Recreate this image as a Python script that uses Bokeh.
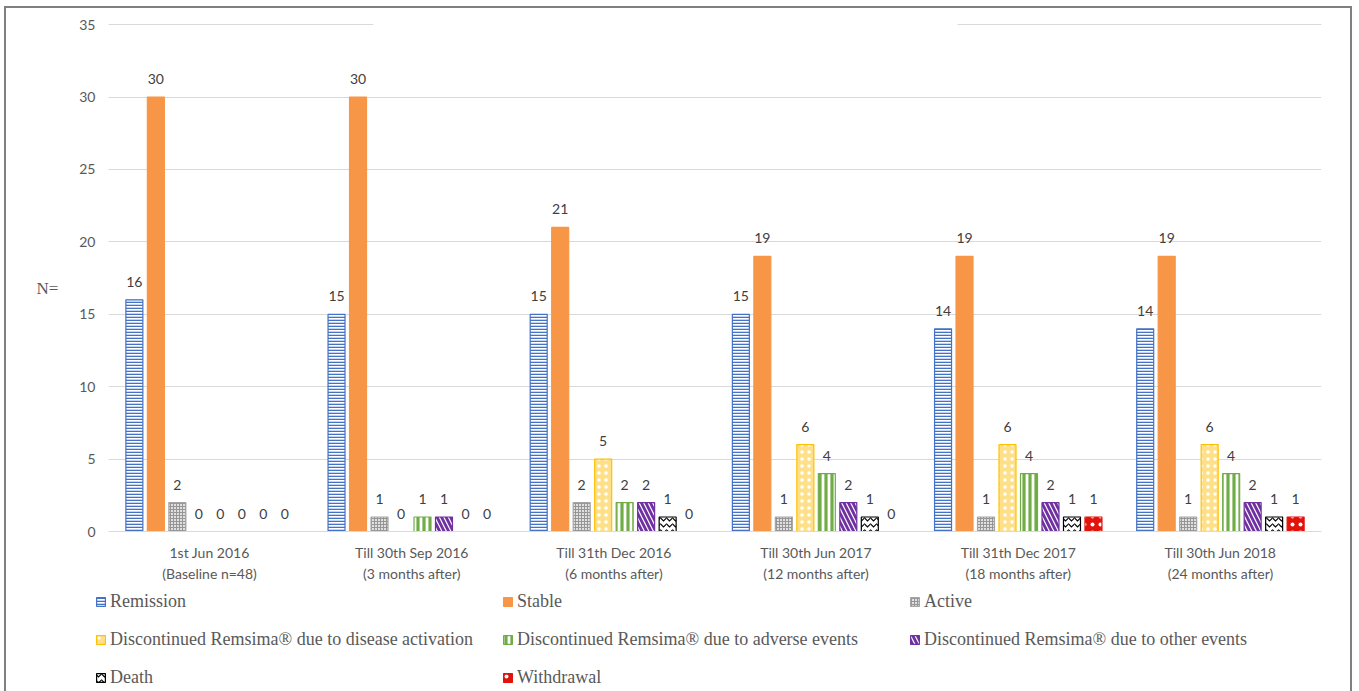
from bokeh.plotting import figure
from bokeh.models import (ColumnDataSource, FactorRange, Range1d, Legend, LegendItem,
                          FixedTicker, BoxAnnotation)
from bokeh.layouts import column
from bokeh.transform import dodge
from bokeh.core.properties import value
from bokeh.embed import file_html
from bokeh.resources import INLINE

categories = ["1st Jun 2016\n(Baseline n=48)", "Till 30th Sep 2016\n(3 months after)",
              "Till 31th Dec 2016\n(6 months after)", "Till 30th Jun 2017\n(12 months after)",
              "Till 31th Dec 2017\n(18 months after)", "Till 30th Jun 2018\n(24 months after)"]
remission = [16, 15, 15, 15, 14, 14]
stable = [30, 30, 21, 19, 19, 19]
active = [2, 1, 2, 1, 1, 1]
disease_activation = [0, 0, 5, 6, 6, 6]
adverse_events = [0, 1, 2, 4, 4, 4]
other_events = [0, 1, 2, 2, 2, 2]
death = [0, 0, 1, 1, 1, 1]
withdrawal = [0, 0, 0, 0, 1, 1]
y_ticks = [0, 5, 10, 15, 20, 25, 30, 35]

series = [
    ("Remission", remission, dict(fill_color="white", line_color="#4472C4", hatch_pattern="-",
                                  hatch_color="#4472C4", hatch_scale=3, hatch_weight=1.6)),
    ("Stable", stable, dict(fill_color="#F79646", line_color="#F79646")),
    ("Active", active, dict(fill_color="#E0E0E0", line_color="#A5A5A5", hatch_pattern="+",
                            hatch_color="#969696", hatch_scale=3, hatch_weight=1)),
    ("Discontinued Remsima® due to disease activation", disease_activation,
     dict(fill_color="#FFE08A", line_color="#FFC000", hatch_pattern=".",
          hatch_color="white", hatch_scale=7, hatch_weight=1)),
    ("Discontinued Remsima® due to adverse events", adverse_events,
     dict(fill_color="white", line_color="#70AD47", hatch_pattern="|",
          hatch_color="#70AD47", hatch_scale=6, hatch_weight=3.2)),
    ("Discontinued Remsima® due to other events", other_events,
     dict(fill_color="white", line_color="#7030A0", hatch_pattern="\\",
          hatch_color="#7030A0", hatch_scale=9, hatch_weight=2.8)),
    ("Death", death, dict(fill_color="white", line_color="black", hatch_pattern="v",
                          hatch_color="black", hatch_scale=6, hatch_weight=1.2)),
    ("Withdrawal", withdrawal, dict(fill_color="#E3120B", line_color="#E3120B", hatch_pattern=".",
                                    hatch_color="white", hatch_scale=8, hatch_weight=1)),
]
# legend is filled column by column; this order gives the row-wise reading of the source
legend_order = [0, 3, 6, 1, 4, 7, 2, 5]

data = {"cat": categories}
for i, (name, vals, _) in enumerate(series):
    data[f"s{i}"] = vals
    data[f"t{i}"] = [str(v) for v in vals]
source = ColumnDataSource(data)

W = 1359
H_MAIN = 590
H_LEG = 101

p = figure(width=W, height=H_MAIN, x_range=FactorRange(*categories, range_padding=0),
           y_range=Range1d(0, 35.15), output_backend="svg", toolbar_location=None,
           min_border_left=108, min_border_right=38, min_border_top=22,
           min_border_bottom=H_MAIN - 531)
p.frame_align = False
p.x_range.factor_padding = 0
p.outline_line_color = None
p.background_fill_color = "white"
p.border_fill_color = None
p.styles = {
    "background-color": "white",
    "box-shadow": ("inset 4px 0 0 0 white, inset 0 6px 0 0 white, inset -7px 0 0 0 white, "
                   "inset 6px 0 0 0 #808080, inset 0 8px 0 0 #808080, inset -9px 0 0 0 #808080"),
}

step = 0.1063
bw = 0.084
for i, (name, vals, style) in enumerate(series):
    off = (i - 3.5) * step
    p.vbar(x=dodge("cat", off, range=p.x_range), top=f"s{i}", width=bw, source=source,
           line_width=1.2, **style)
    p.text(x=dodge("cat", off, range=p.x_range), y=f"s{i}", text=f"t{i}", source=source,
           text_align="center", text_baseline="bottom", y_offset=-13,
           text_font=value("Lato"), text_font_size="14px", text_color="#404040")

p.xgrid.grid_line_color = None
p.ygrid.grid_line_color = "#D9D9D9"
p.ygrid.grid_line_width = 1

p.yaxis.ticker = FixedTicker(ticks=y_ticks)
p.yaxis.axis_line_color = None
p.yaxis.major_tick_line_color = None
p.yaxis.minor_tick_line_color = None
p.yaxis.major_label_text_font = "Lato"
p.yaxis.major_label_text_font_size = "14px"
p.yaxis.major_label_text_color = "#595959"
p.yaxis.major_label_standoff = 7
p.yaxis.axis_label = "\nN="
p.yaxis.axis_label_orientation = "horizontal"
p.yaxis.axis_label_text_font = "Liberation Serif"
p.yaxis.axis_label_text_font_style = "normal"
p.yaxis.axis_label_text_font_size = "17px"
p.yaxis.axis_label_text_color = "#595959"
p.yaxis.axis_label_standoff = 18

p.xaxis.axis_line_color = "#D9D9D9"
p.xaxis.axis_line_width = 1
p.xaxis.major_tick_line_color = None
p.xaxis.minor_tick_line_color = None
p.xaxis.major_label_text_font = "Lato"
p.xaxis.major_label_text_font_size = "14px"
p.xaxis.major_label_text_color = "#595959"
p.xaxis.major_label_text_line_height = 1.25
p.xaxis.major_label_standoff = 6

# white patch interrupting the top gridline (as in the source image)
gap = BoxAnnotation(left=1.31, right=4.2, bottom=34.8, top=35.15,
                    fill_color="white", fill_alpha=1, line_color=None)
p.add_layout(gap)

# ---- legend strip below the chart ----
leg = figure(width=W, height=H_LEG, x_range=Range1d(0, 1), y_range=Range1d(0, 1),
             output_backend="svg", toolbar_location=None,
             min_border_left=0, min_border_right=0, min_border_top=0, min_border_bottom=0)
leg.frame_align = False
leg.axis.visible = False
leg.grid.visible = False
leg.outline_line_color = None
leg.background_fill_color = None
leg.border_fill_color = None
leg.styles = {
    "background-color": "white",
    "box-shadow": ("inset 4px 0 0 0 white, inset -7px 0 0 0 white, "
                   "inset 6px 0 0 0 #808080, inset -9px 0 0 0 #808080"),
}
# one zero-size swatch bar per series (only its legend glyph shows)
swatch = ColumnDataSource(dict(x=[0.5], bottom=[0.5], top=[0.5]))
renderers = []
for name, vals, style in series:
    r = leg.vbar(x="x", bottom="bottom", top="top", width=0, source=swatch,
                 line_width=1.2, **style)
    renderers.append((name, r))
items = [LegendItem(label=renderers[k][0], renderers=[renderers[k][1]]) for k in legend_order]

legend = Legend(items=items, ncols=3, location=(95, 3), padding=0, margin=0,
                border_line_color=None, background_fill_alpha=0,
                glyph_width=11, glyph_height=11, label_standoff=4, label_width=375,
                label_height=21, spacing=17,
                label_text_font="Liberation Serif", label_text_font_size="18px",
                label_text_color="#595959")
leg.add_layout(legend, "center")

layout = column(p, leg, spacing=0)
open("out.html", "w").write(file_html(layout, INLINE))
